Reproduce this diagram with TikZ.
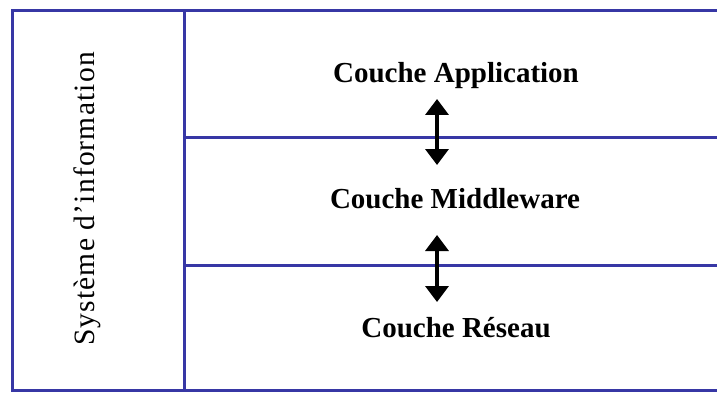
\documentclass[tikz,border=0pt]{standalone}
\usepackage{fontspec}
\setmainfont{Liberation Serif}
\newfontfamily\spacedserif[LetterSpace=4]{Liberation Serif}
\usetikzlibrary{arrows.meta}
\definecolor{framecol}{RGB}{55,55,165}
\tikzset{
  cell/.style={draw=framecol, line width=2.6pt, rectangle, inner sep=0pt, anchor=north west},
  layertext/.style={anchor=base, inner sep=0pt, font=\fontsize{29}{34}\selectfont\bfseries},
  sidetext/.style={anchor=base, inner sep=0pt, rotate=90, font=\fontsize{29.5}{34}\spacedserif},
  dblarrow/.style={line width=3.4pt, black, {Triangle[width=23pt,length=16pt]}-{Triangle[width=23pt,length=16pt]}}
}
\begin{document}
\begin{tikzpicture}[x=1pt,y=-1pt]
\useasboundingbox (0,0) rectangle (717,393);
\clip (0,0) rectangle (717,393);
\node[cell, minimum width=172, minimum height=380] (sys) at (11,9) {};
\node[cell, minimum width=560, minimum height=127] (app) at (183,9) {};
\node[cell, minimum width=560, minimum height=128] (mid) at (183,136) {};
\node[cell, minimum width=560, minimum height=125] (res) at (183,264) {};
\node[sidetext] (systext) at (94,199) {Système d’information};
\node[layertext] (apptext) at (456,83) {Couche Application};
\node[layertext] (midtext) at (455,208) {Couche Middleware};
\node[layertext] (restext) at (456,337) {Couche Réseau};
\coordinate (a1) at (437,99);
\coordinate (a2) at (437,165);
\coordinate (b1) at (437,235);
\coordinate (b2) at (437,302);
\draw[dblarrow] (a1) -- (a2);
\draw[dblarrow] (b1) -- (b2);
\end{tikzpicture}
\end{document}
